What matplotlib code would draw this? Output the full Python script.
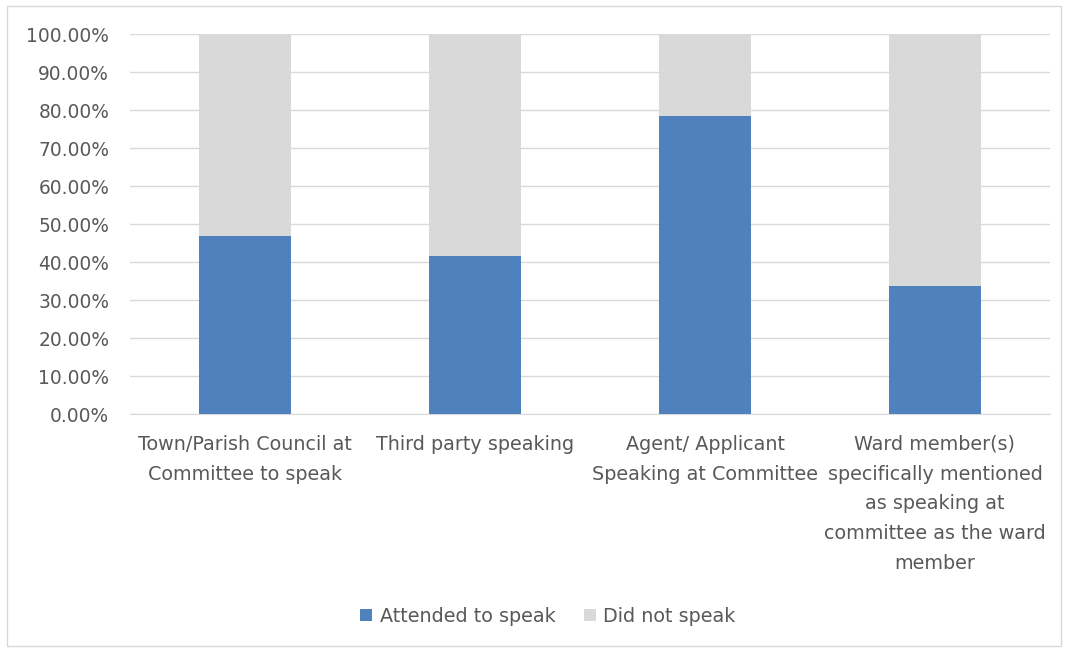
import matplotlib
matplotlib.use("Agg")
import matplotlib.pyplot as plt
from matplotlib.ticker import FuncFormatter
from matplotlib.patches import Rectangle

categories = ["Town/Parish Council at\nCommittee to speak",
              "Third party speaking",
              "Agent/ Applicant\nSpeaking at Committee",
              "Ward member(s)\nspecifically mentioned\nas speaking at\ncommittee as the ward\nmember"]
attended = [46.9, 41.7, 78.5, 33.7]
did_not = [100 - a for a in attended]
yticks = [0, 10, 20, 30, 40, 50, 60, 70, 80, 90, 100]

plt.rcParams['font.family'] = ['DejaVu Sans']
txt = '#595959'
fig = plt.figure(figsize=(10.68, 6.52), dpi=100)
ax = fig.add_axes([130/1068, 1-414/652, 920/1068, 380/652])

x = range(len(categories))
ax.bar(x, attended, width=0.4, color='#4F81BD', label='Attended to speak', zorder=3)
ax.bar(x, did_not, bottom=attended, width=0.4, color='#D9D9D9', label='Did not speak', zorder=3)

ax.set_xlim(-0.5, 3.5)
ax.set_ylim(0, 100)
ax.set_yticks(yticks)
ax.yaxis.set_major_formatter(FuncFormatter(lambda v, p: f"{v:.2f}%"))
ax.set_xticks(list(x))
ax.set_xticklabels(categories, fontsize=13.8, color=txt, linespacing=1.72)
ax.tick_params(axis='y', labelsize=13.4, labelcolor=txt, length=0, pad=15)
ax.tick_params(axis='x', length=0, pad=15)
ax.grid(axis='y', color='#D9D9D9', linewidth=1, zorder=0)
for s in ['top', 'right', 'left']:
    ax.spines[s].set_visible(False)
ax.spines['bottom'].set_color('#D9D9D9')

fig.legend(loc='center', bbox_to_anchor=(548/1068, 1-616/652), ncol=2, frameon=False,
           fontsize=13.8, labelcolor=txt, handlelength=0.6, handleheight=0.6,
           handletextpad=0.4, columnspacing=1.5)

fig.patches.append(Rectangle((7/1068, 6/652), 1-14/1068, 1-12/652, transform=fig.transFigure,
                             fill=False, edgecolor='#D9D9D9', linewidth=1))
fig.savefig("out.png", dpi=100)
